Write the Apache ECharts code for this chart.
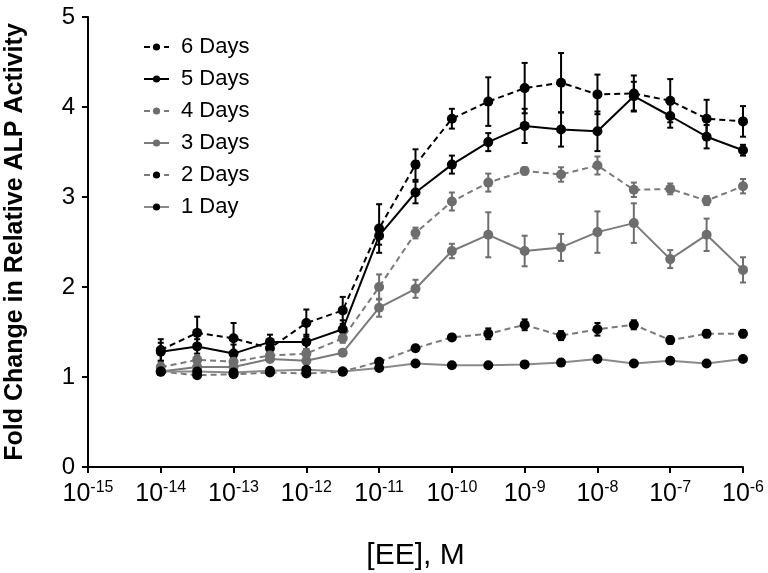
<!DOCTYPE html>
<html>
<head>
<meta charset="utf-8">
<script src="https://cdn.jsdelivr.net/npm/echarts@6/dist/echarts.min.js"></script>
<style>html,body{margin:0;padding:0;background:#fff}#c{width:768px;height:573px}</style>
</head>
<body>
<div id="c"></div>
<script>
// Log10 of [EE] concentration
const exps = [-14,-13.5,-13,-12.5,-12,-11.5,-11,-10.5,-10,-9.5,-9,-8.5,-8,-7.5,-7,-6.5,-6];
const xTicks = [-15,-14,-13,-12,-11,-10,-9,-8,-7,-6];
const yTicks = [0,1,2,3,4,5];
const names = ['6 Days','5 Days','4 Days','3 Days','2 Days','1 Day'];

const d6 = [1.30,1.49,1.43,1.32,1.60,1.74,2.65,3.36,3.87,4.06,4.21,4.27,4.14,4.15,4.07,3.87,3.84];
const e6 = [0.12,0.18,0.17,0.10,0.15,0.15,0.27,0.17,0.11,0.27,0.28,0.33,0.22,0.20,0.24,0.21,0.17];
const d5 = [1.28,1.34,1.26,1.39,1.39,1.53,2.57,3.05,3.36,3.61,3.79,3.75,3.73,4.12,3.90,3.67,3.52];
const e5 = [0.10,0.08,0.10,0.08,0.08,0.10,0.10,0.12,0.10,0.10,0.19,0.19,0.22,0.16,0.13,0.13,0.06];
const d4 = [1.11,1.19,1.17,1.24,1.26,1.43,2.00,2.60,2.95,3.16,3.29,3.25,3.35,3.08,3.09,2.96,3.12];
const e4 = [0.05,0.05,0.05,0.05,0.05,0.05,0.14,0.06,0.10,0.10,0.04,0.08,0.10,0.08,0.06,0.05,0.08];
const d3 = [1.06,1.11,1.11,1.20,1.18,1.27,1.77,1.98,2.40,2.58,2.40,2.44,2.61,2.71,2.31,2.58,2.19];
const e3 = [0.03,0.03,0.03,0.03,0.03,0.03,0.10,0.10,0.08,0.25,0.17,0.15,0.23,0.22,0.10,0.18,0.14];
const d2 = [1.06,1.02,1.03,1.05,1.04,1.06,1.17,1.32,1.44,1.48,1.58,1.46,1.53,1.58,1.41,1.48,1.48];
const e2 = [0.02,0.02,0.02,0.02,0.02,0.02,0.02,0.03,0.03,0.06,0.06,0.05,0.07,0.05,0.04,0.04,0.04];
const d1 = [1.06,1.06,1.05,1.07,1.08,1.06,1.10,1.15,1.13,1.13,1.14,1.16,1.20,1.15,1.18,1.15,1.20];
const e1 = [0.02,0.02,0.02,0.02,0.02,0.02,0.02,0.02,0.02,0.02,0.02,0.02,0.02,0.02,0.02,0.02,0.02];

const FONT = 'Liberation Sans, Arial, sans-serif';
const styles = [
  {vals:d6, errs:e6, line:'#000', mark:'#000', dash:[6,4]},
  {vals:d5, errs:e5, line:'#000', mark:'#000', dash:'solid'},
  {vals:d4, errs:e4, line:'#7a7a7a', mark:'#6e6e6e', dash:[6,4]},
  {vals:d3, errs:e3, line:'#7a7a7a', mark:'#6e6e6e', dash:'solid'},
  {vals:d2, errs:e2, line:'#7a7a7a', mark:'#000', dash:[6,4]},
  {vals:d1, errs:e1, line:'#8a8a8a', mark:'#000', dash:'solid'}
];

const series = [];
styles.forEach((s, i) => {
  series.push({
    name: names[i] + ' err',
    type: 'custom',
    z: 2,
    silent: true,
    data: exps.map((x, k) => [x, s.vals[k] - s.errs[k], s.vals[k] + s.errs[k]]),
    encode: {x: 0, y: [1, 2]},
    renderItem: (params, api) => {
      const x = api.value(0);
      const top = api.coord([x, api.value(2)]);
      const bot = api.coord([x, api.value(1)]);
      const w = 3;
      const st = {stroke: s.mark, lineWidth: 2};
      return {type: 'group', children: [
        {type: 'line', shape: {x1: top[0], y1: top[1], x2: bot[0], y2: bot[1]}, style: st},
        {type: 'line', shape: {x1: top[0]-w, y1: top[1], x2: top[0]+w, y2: top[1]}, style: st},
        {type: 'line', shape: {x1: bot[0]-w, y1: bot[1], x2: bot[0]+w, y2: bot[1]}, style: st}
      ]};
    }
  });
});
styles.forEach((s, i) => {
  series.push({
    name: names[i],
    type: 'line',
    z: 3,
    data: exps.map((x, k) => [x, s.vals[k]]),
    symbol: 'circle',
    symbolSize: 10,
    itemStyle: {color: s.mark},
    lineStyle: {color: s.line, width: 2, type: s.dash},
    emphasis: {disabled: true}
  });
});

const chart = echarts.init(document.getElementById('c'));
chart.setOption({
  animation: false,
  backgroundColor: '#fff',
  grid: {left: 88, right: 25, top: 17, bottom: 106, containLabel: false, outerBoundsMode: 'none'},
  legend: {
    data: names,
    orient: 'vertical',
    left: 138,
    top: 31,
    itemWidth: 25,
    itemHeight: 9,
    itemGap: 10,
    textStyle: {fontFamily: FONT, fontSize: 22, color: '#000', padding: [0, 0, 0, 7]}
  },
  xAxis: {
    type: 'value',
    min: -15, max: -6, interval: 1,
    name: '[EE], M',
    nameLocation: 'middle',
    nameGap: 74,
    nameTextStyle: {fontFamily: FONT, fontSize: 30, color: '#000'},
    axisLine: {lineStyle: {color: '#000', width: 2}},
    axisTick: {show: true, length: 6, lineStyle: {color: '#000', width: 2}},
    splitLine: {show: false},
    axisLabel: {
      margin: 13,
      formatter: v => xTicks.indexOf(v) >= 0 ? '{b|10}{s|' + v + '}' : '',
      rich: {
        b: {fontFamily: FONT, fontSize: 25, color: '#000'},
        s: {fontFamily: FONT, fontSize: 16, color: '#000', verticalAlign: 'top', padding: [0, 0, 12, 0]}
      }
    }
  },
  yAxis: {
    type: 'value',
    min: 0, max: 5, interval: 1,
    name: 'Fold Change in Relative ALP Activity',
    nameLocation: 'middle',
    nameGap: 60,
    nameTextStyle: {fontFamily: FONT, fontSize: 25, fontWeight: 'bold', color: '#000'},
    axisLine: {show: true, lineStyle: {color: '#000', width: 2}},
    axisTick: {show: true, length: 6, lineStyle: {color: '#000', width: 2}},
    splitLine: {show: false},
    axisLabel: {
      margin: 13,
      fontFamily: FONT, fontSize: 24, color: '#000',
      formatter: v => yTicks.indexOf(v) >= 0 ? String(v) : ''
    }
  },
  series: series
});
</script>
</body>
</html>
